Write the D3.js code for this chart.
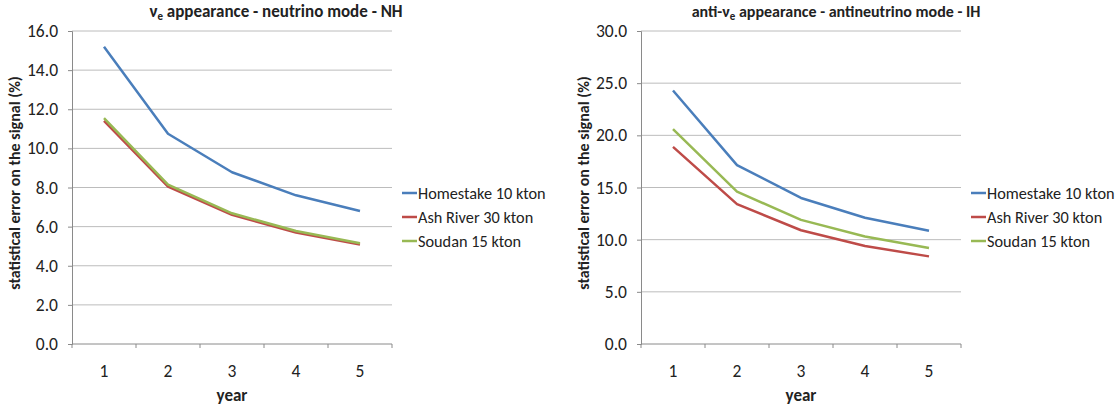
<!doctype html>
<html lang="en">
  <head>
    <meta charset="utf-8">
    <title>Statistical error on the signal</title>
    <script src="https://d3js.org/d3.v7.min.js"></script>
    <style>
      body { margin: 0; background: #fff; }
      text { font-family: Carlito, "Open Sans", "Liberation Sans", sans-serif; fill: #222; }
    </style>
  </head>
  <body>
    <svg width="1119" height="406"></svg>
    <script>
      var years = [1, 2, 3, 4, 5];
      var seriesNames = ['Homestake 10 kton', 'Ash River 30 kton', 'Soudan 15 kton'];
      var colors = ['#4a7ebb', '#be4b48', '#98b954'];

      // neutrino mode, NH
      var nuHomestake = [15.2, 10.75, 8.78, 7.6, 6.8];
      var nuAshRiver  = [11.4, 8.05, 6.6, 5.7, 5.08];
      var nuSoudan    = [11.55, 8.15, 6.68, 5.78, 5.15];
      var nuTicks = [0, 2, 4, 6, 8, 10, 12, 14, 16];

      // antineutrino mode, IH
      var anuHomestake = [24.3, 17.15, 14.0, 12.1, 10.85];
      var anuAshRiver  = [18.9, 13.4, 10.9, 9.4, 8.4];
      var anuSoudan    = [20.6, 14.6, 11.9, 10.3, 9.2];
      var anuTicks = [0, 5, 10, 15, 20, 25, 30];

      var svg = d3.select('svg');

      var drawPanel = function(opts){
        var g = svg.append('g');
        var x = d3.scaleBand().domain(years).range([opts.x0, opts.x1]);
        var y = d3.scaleLinear().domain([0, opts.max]).range([344, 31]);

        // gridlines
        g.selectAll('.grid').data(opts.ticks.slice(1)).enter()
          .append('line')
            .attr('x1', opts.x0).attr('x2', opts.x1)
            .attr('y1', function(d){ return y(d); })
            .attr('y2', function(d){ return y(d); })
            .attr('stroke', '#bcbcbc').attr('stroke-width', 1);

        var yAxis = g.append('g')
          .attr('transform', 'translate(' + opts.x0 + ',0)')
          .call(d3.axisLeft(y).tickValues(opts.ticks).tickFormat(d3.format('.1f')).tickSize(4).tickPadding(10));
        var xAxis = g.append('g')
          .attr('transform', 'translate(0,' + y(0) + ')')
          .call(d3.axisBottom(x).tickSize(0).tickPadding(21));
        [yAxis, xAxis].forEach(function(a){
          a.select('.domain').attr('stroke', '#8a8a8a');
          a.selectAll('line').attr('stroke', '#8a8a8a');
          a.selectAll('text').style('font-size', '17.5px').attr('fill', '#222');
        });
        xAxis.select('.domain').attr('d', 'M' + opts.x0 + ',0H' + opts.x1);
        // category boundary ticks
        g.selectAll('.xt').data(d3.range(years.length + 1)).enter()
          .append('line')
            .attr('x1', function(i){ return opts.x0 + i * x.step(); })
            .attr('x2', function(i){ return opts.x0 + i * x.step(); })
            .attr('y1', y(0)).attr('y2', y(0) + 4)
            .attr('stroke', '#8a8a8a');

        var line = d3.line()
          .x(function(d, i){ return x(years[i]) + x.bandwidth() / 2; })
          .y(function(d){ return y(d); });

        opts.series.forEach(function(s, k){
          g.append('path')
            .attr('d', line(s))
            .attr('fill', 'none')
            .attr('stroke', colors[k])
            .attr('stroke-width', 2.5)
            .attr('stroke-linejoin', 'round');
        });

        // title with subscript e
        var t = g.append('text')
          .attr('x', opts.titleX).attr('y', 17)
          .attr('text-anchor', 'middle')
          .style('font-size', opts.titleSize + 'px').style('font-weight', 'bold');
        t.append('tspan').text(opts.titlePre + 'ν');
        t.append('tspan').text('e').attr('dy', 3).style('font-size', '11px');
        t.append('tspan').text(opts.titlePost).attr('dy', -3);

        g.append('text')
          .attr('x', (opts.x0 + opts.x1) / 2).attr('y', 401)
          .attr('text-anchor', 'middle')
          .style('font-size', '17px').style('font-weight', 'bold')
          .text('year');

        g.append('text')
          .attr('transform', 'translate(' + (opts.x0 - 52) + ',183) rotate(-90)')
          .attr('text-anchor', 'middle')
          .style('font-size', '16px').style('font-weight', 'bold')
          .text('statistical error on the signal (%)');

        // legend
        var leg = g.append('g').attr('transform', 'translate(' + (opts.x1 + 10) + ',193)');
        seriesNames.forEach(function(n, k){
          leg.append('line')
            .attr('x1', 0).attr('x2', 15)
            .attr('y1', k * 24).attr('y2', k * 24)
            .attr('stroke', colors[k]).attr('stroke-width', 2.5);
          leg.append('text')
            .attr('x', 16).attr('y', k * 24 + 6)
            .style('font-size', '16.3px')
            .text(n);
        });
      };

      drawPanel({
        x0: 72, x1: 392, max: 16, ticks: nuTicks,
        series: [nuHomestake, nuAshRiver, nuSoudan],
        titleX: 276, titleSize: 17, titlePre: '', titlePost: ' appearance - neutrino mode - NH'
      });
      drawPanel({
        x0: 641, x1: 961, max: 30, ticks: anuTicks,
        series: [anuHomestake, anuAshRiver, anuSoudan],
        titleX: 836, titleSize: 16, titlePre: 'anti-', titlePost: ' appearance - antineutrino mode - IH'
      });
    </script>
  </body>
</html>
